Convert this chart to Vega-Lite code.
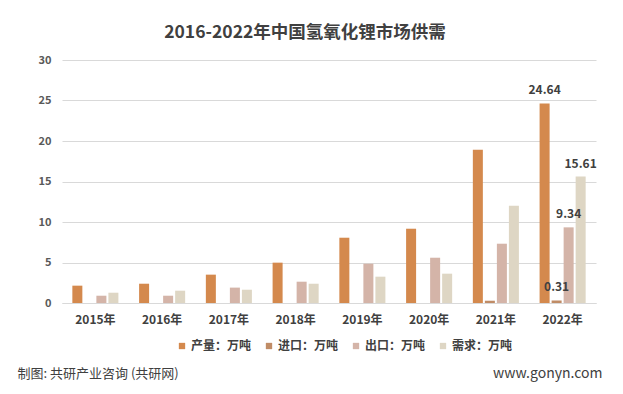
{
  "$schema": "https://vega.github.io/schema/vega-lite/v6.json",
  "width": 534,
  "height": 243,
  "autosize": {"type": "none"},
  "padding": {"left": 62, "top": 60, "right": 27, "bottom": 91},
  "background": "white",
  "title": {
    "text": "2016-2022年中国氢氧化锂市场供需",
    "anchor": "middle",
    "frame": "group",
    "dx": -24,
    "offset": 13,
    "fontSize": 17.5,
    "fontWeight": "bold",
    "color": "#404040",
    "font": "Noto Sans CJK SC"
  },
  "data": {
    "values": [
      {"year": "2015年", "series": "产量：万吨", "value": 2.14},
      {"year": "2015年", "series": "进口：万吨", "value": 0},
      {"year": "2015年", "series": "出口：万吨", "value": 0.9},
      {"year": "2015年", "series": "需求：万吨", "value": 1.27},
      {"year": "2016年", "series": "产量：万吨", "value": 2.38},
      {"year": "2016年", "series": "进口：万吨", "value": 0},
      {"year": "2016年", "series": "出口：万吨", "value": 0.9},
      {"year": "2016年", "series": "需求：万吨", "value": 1.52},
      {"year": "2017年", "series": "产量：万吨", "value": 3.5},
      {"year": "2017年", "series": "进口：万吨", "value": 0},
      {"year": "2017年", "series": "出口：万吨", "value": 1.9},
      {"year": "2017年", "series": "需求：万吨", "value": 1.64},
      {"year": "2018年", "series": "产量：万吨", "value": 4.98},
      {"year": "2018年", "series": "进口：万吨", "value": 0},
      {"year": "2018年", "series": "出口：万吨", "value": 2.63},
      {"year": "2018年", "series": "需求：万吨", "value": 2.38},
      {"year": "2019年", "series": "产量：万吨", "value": 8.06},
      {"year": "2019年", "series": "进口：万吨", "value": 0},
      {"year": "2019年", "series": "出口：万吨", "value": 4.85},
      {"year": "2019年", "series": "需求：万吨", "value": 3.25},
      {"year": "2020年", "series": "产量：万吨", "value": 9.17},
      {"year": "2020年", "series": "进口：万吨", "value": 0},
      {"year": "2020年", "series": "出口：万吨", "value": 5.59},
      {"year": "2020年", "series": "需求：万吨", "value": 3.62},
      {"year": "2021年", "series": "产量：万吨", "value": 18.93},
      {"year": "2021年", "series": "进口：万吨", "value": 0.28},
      {"year": "2021年", "series": "出口：万吨", "value": 7.32},
      {"year": "2021年", "series": "需求：万吨", "value": 12.01},
      {"year": "2022年", "series": "产量：万吨", "value": 24.64},
      {"year": "2022年", "series": "进口：万吨", "value": 0.31},
      {"year": "2022年", "series": "出口：万吨", "value": 9.34},
      {"year": "2022年", "series": "需求：万吨", "value": 15.61}
    ]
  },
  "encoding": {
    "x": {
      "field": "year",
      "type": "nominal",
      "sort": null,
      "scale": {"paddingInner": 0.31, "paddingOuter": 0.155},
      "axis": {
        "title": "制图: 共研产业咨询 (共研网)",
        "titleX": -45,
        "titleY": 70,
        "titleAnchor": null,
        "titleAlign": "left",
        "titleBaseline": "middle",
        "titleFontSize": 13,
        "titleFontWeight": "normal",
        "titleColor": "#404040",
        "titleFont": "Noto Sans CJK SC",
        "labelAngle": 0,
        "labelFontSize": 12,
        "labelFontWeight": "bold",
        "labelColor": "#404040",
        "labelFont": "Noto Sans CJK SC",
        "labelPadding": 11,
        "ticks": false,
        "domainColor": "#D9D9D9",
        "domainWidth": 1
      }
    },
    "xOffset": {
      "field": "series",
      "type": "nominal",
      "sort": ["产量：万吨", "进口：万吨", "出口：万吨", "需求：万吨"],
      "scale": {"paddingInner": 0.167, "paddingOuter": 0}
    },
    "y": {
      "field": "value",
      "type": "quantitative",
      "scale": {"domain": [0, 30], "nice": false},
      "axis": {
        "values": [0, 5, 10, 15, 20, 25, 30],
        "title": "www.gonyn.com",
        "titleAngle": 0,
        "titleX": 540,
        "titleY": 313,
        "titleAlign": "right",
        "titleBaseline": "middle",
        "titleFontSize": 14,
        "titleFontWeight": "normal",
        "titleColor": "#404040",
        "titleFont": "Noto Sans CJK SC",
        "labelFontSize": 11,
        "labelFontWeight": "bold",
        "labelColor": "#595959",
        "labelFont": "Noto Sans CJK SC",
        "labelPadding": 11,
        "ticks": false,
        "domain": false,
        "gridColor": "#D9D9D9",
        "gridWidth": 1
      }
    }
  },
  "layer": [
    {
      "mark": {"type": "bar"},
      "encoding": {
        "color": {
          "field": "series",
          "type": "nominal",
          "sort": ["产量：万吨", "进口：万吨", "出口：万吨", "需求：万吨"],
          "scale": {
            "domain": ["产量：万吨", "进口：万吨", "出口：万吨", "需求：万吨"],
            "range": ["#D4894D", "#C08C66", "#D4B4A8", "#DED6C4"]
          },
          "legend": {
            "title": null,
            "orient": "none",
            "legendX": 114,
            "legendY": 280,
            "direction": "horizontal",
            "columns": 4,
            "columnPadding": 11,
            "padding": 0,
            "symbolType": "square",
            "symbolSize": 40,
            "symbolStrokeWidth": 0,
            "labelFontSize": 12,
            "labelFontWeight": "bold",
            "labelColor": "#404040",
            "labelFont": "Noto Sans CJK SC",
            "labelOffset": 3
          }
        }
      }
    },
    {
      "transform": [{"filter": {"field": "year", "equal": "2022年"}}],
      "mark": {
        "type": "text",
        "dy": -13,
        "baseline": "middle",
        "fontSize": 12,
        "fontWeight": "bold",
        "color": "#404040",
        "font": "Noto Sans CJK SC"
      },
      "encoding": {
        "text": {"field": "value", "type": "quantitative", "format": ".2f"}
      }
    }
  ],
  "config": {
    "view": {"stroke": null}
  }
}
